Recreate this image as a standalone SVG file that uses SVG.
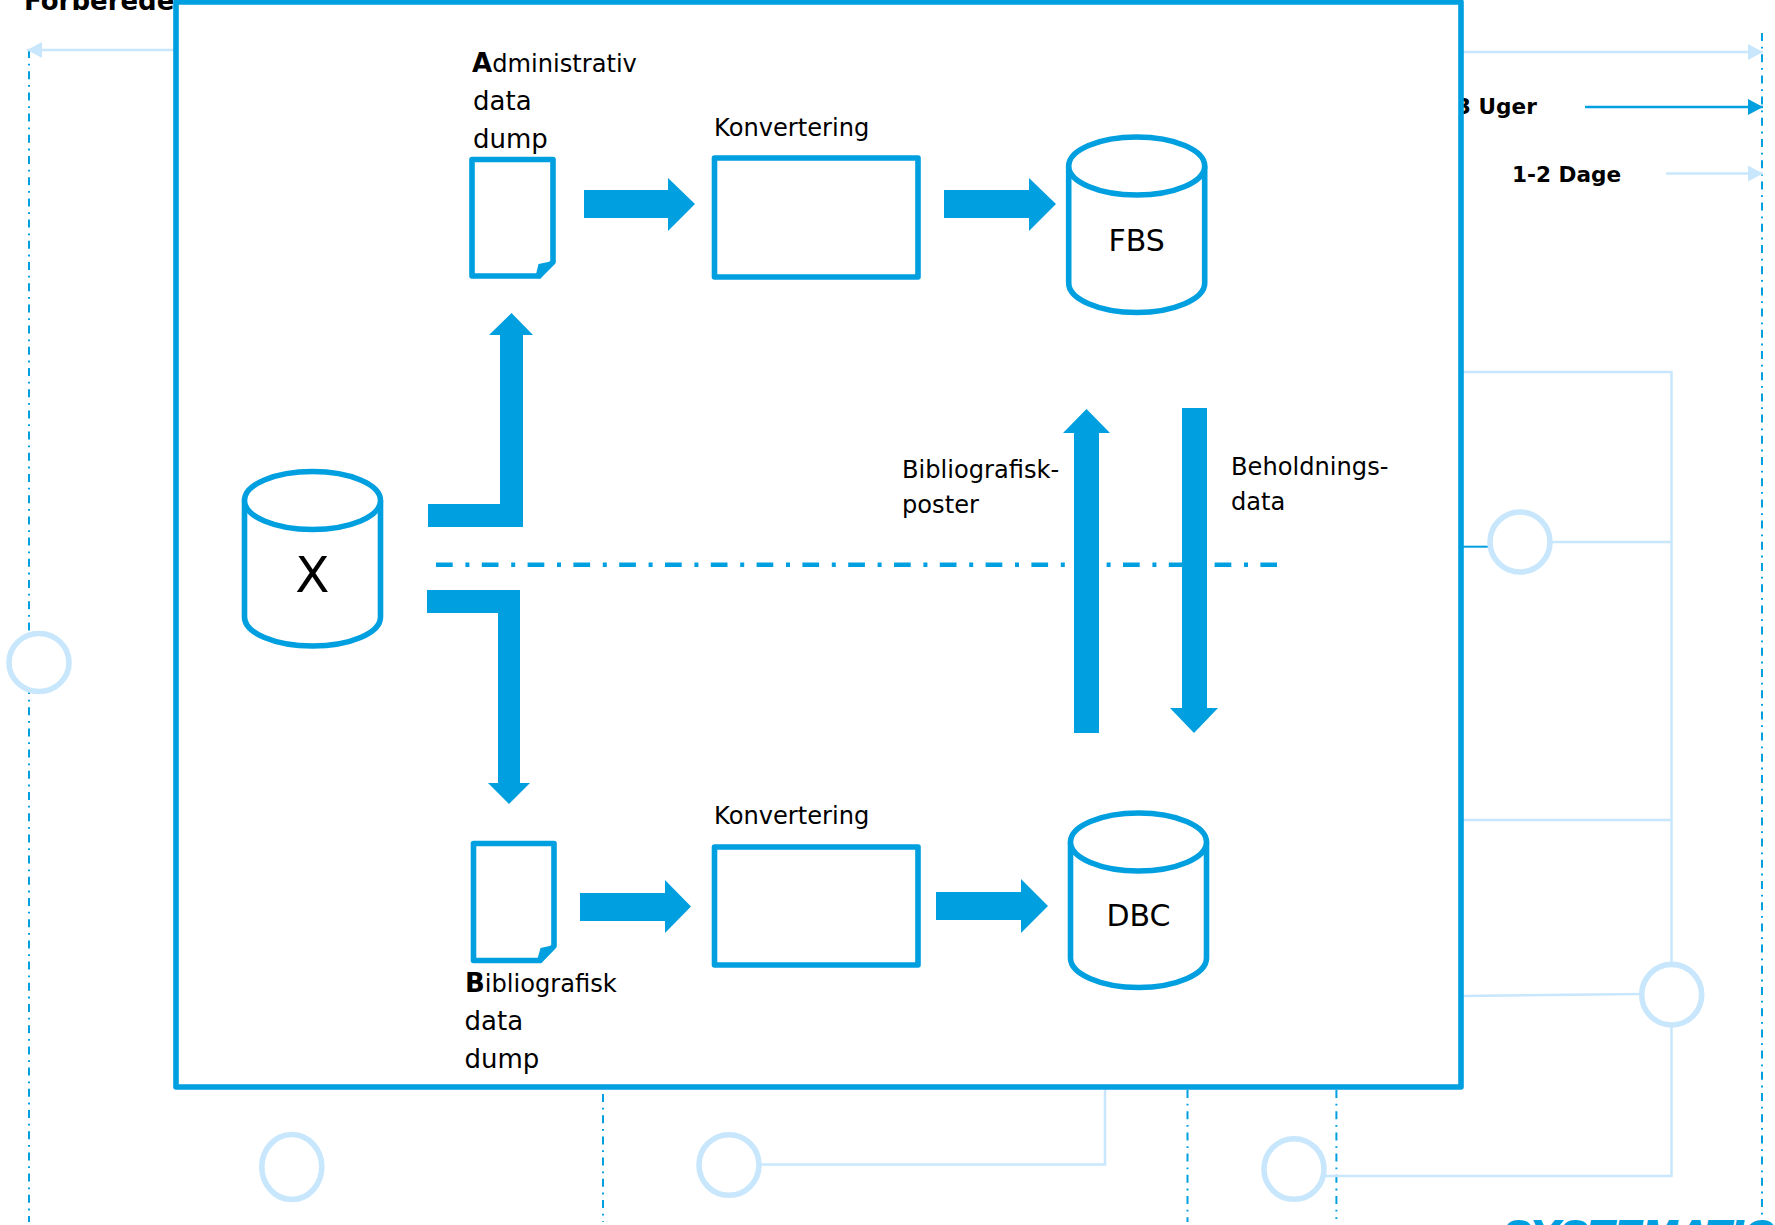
<svg xmlns="http://www.w3.org/2000/svg" width="1775" height="1225" viewBox="0 0 1775 1225">
<defs>
<marker id="ahLight" markerUnits="userSpaceOnUse" markerWidth="16" markerHeight="16" refX="15" refY="8" orient="auto"><path d="M0,0 L15,8 L0,16 Z" fill="#c8e7fc"/></marker>
<marker id="ahDark" markerUnits="userSpaceOnUse" markerWidth="16" markerHeight="16" refX="15" refY="8" orient="auto"><path d="M0,0 L15,8 L0,16 Z" fill="#009fdf"/></marker>
</defs>
<style>
text{font-family:"DejaVu Sans",Verdana,sans-serif;fill:#000}
.t{font-size:24.15px}
.b{font-size:26px;font-weight:bold}
.d{font-size:26px}
.h{font-size:21.6px;font-weight:bold}
.shape{fill:#fff;stroke:#009fdf;stroke-width:5.6;stroke-linejoin:round}
.solid{fill:#009fdf;stroke:none}
.light{fill:none;stroke:#c8e7fc;stroke-width:2.5}
.ring{fill:#fff;stroke:#c8e7fc;stroke-width:5.6}
.dash{fill:none;stroke:#009fdf;stroke-width:2;stroke-dasharray:8 5.8 1.8 5.6}
</style>
<rect width="1775" height="1225" fill="#fff"/>
<text id="logo" x="1503" y="1249" style="font-family:'Liberation Sans',sans-serif;font-size:41px;font-weight:bold;font-style:italic;fill:#009fdf;stroke:#009fdf;stroke-width:2;letter-spacing:1px">SYSTEMATIC</text>
<g id="labels-back">
<text x="24" y="10" style="font-size:26px;font-weight:bold">Forberede</text>
<text class="h" x="1456" y="114">3 Uger</text>
<text class="h" x="1512" y="181.500">1-2 Dage</text>
</g>
<g id="connectors">
<path class="dash" d="M29,50 V1222"/>
<path class="dash" d="M603,1094 V1222"/>
<path class="dash" d="M1187.500,1090 V1222"/>
<path class="dash" d="M1336.400,1090 V1219"/>
<path class="dash" d="M1762,33 V1219"/>
<path class="light" d="M176,50 H27" marker-end="url(#ahLight)"/>
<path class="light" d="M1461,52 H1763" marker-end="url(#ahLight)"/>
<path d="M1585,107 H1763" fill="none" stroke="#009fdf" stroke-width="2.500" marker-end="url(#ahDark)"/>
<path class="light" d="M1666,173.500 H1763" marker-end="url(#ahLight)"/>
<path class="light" d="M1461,372 H1671.500 V1176 H1326"/>
<path class="light" d="M1552,542 H1671.500"/>
<path class="light" d="M1461,820 H1671.500"/>
<path class="light" d="M1461,996 L1640,994"/>
<path d="M1461,546.700 H1488" fill="none" stroke="#009fdf" stroke-width="2"/>
<path class="light" d="M761,1164.500 H1105 V1086"/>
</g>
<g id="ring-left"><ellipse class="ring" cx="39" cy="662.500" rx="30" ry="29"/></g>
<g id="ring-mid-right"><circle class="ring" cx="1520" cy="542" r="30"/></g>
<g id="ring-lower-right"><ellipse class="ring" cx="1671.700" cy="994.700" rx="30" ry="30.300"/></g>
<g id="ring-bottom-1"><ellipse class="ring" cx="291.800" cy="1167" rx="30" ry="32.500"/></g>
<g id="ring-bottom-2"><ellipse class="ring" cx="729" cy="1165" rx="30" ry="30.300"/></g>
<g id="ring-bottom-3"><ellipse class="ring" cx="1294" cy="1169" rx="30" ry="30.300"/></g>
<g id="main-frame"><rect class="shape" x="176" y="2" width="1285" height="1085"/></g>
<g id="flow-arrows">
<path class="solid" d="M428,527 V504 H500 V335 H489 L511.500,313 L533,335 H523 V527 Z"/>
<path class="solid" d="M427,590 H520 V783 H530 L509,804 L488,783 H498 V613 H427 Z"/>
<path class="solid" d="M584,190 H668 V178 L695,204 L668,231 V218 H584 Z"/>
<path class="solid" d="M944,190 H1029 V178 L1056,204 L1029,231 V218 H944 Z"/>
<path class="solid" d="M580,893 H665 V880 L691,906.500 L665,933 V921 H580 Z"/>
<path class="solid" d="M936,892 H1021 V879 L1048,906 L1021,933 V920 H936 Z"/>
<path d="M436,564.700 H1277" fill="none" stroke="#009fdf" stroke-width="4.500" stroke-dasharray="16.700 12.700 4 12.400"/>
<path class="solid" d="M1074,733 V433 H1063 L1086.500,409 L1110,433 H1099 V733 Z"/>
<path class="solid" d="M1182,408 H1207 V708 H1218 L1194,733 L1170,708 H1182 Z"/>
</g>
<g id="node-x">
<path class="shape" d="M244.500,500.500 V617 C244.500,633 275,646 312.500,646 C350,646 380.500,633 380.500,617 V500.500"/>
<ellipse class="shape" cx="312.500" cy="500.500" rx="68" ry="29"/>
<text x="312.500" y="592" text-anchor="middle" style="font-size:50px">X</text>
</g>
<g id="node-admin-dump">
<path class="shape" d="M472,159.500 H553 V262 L539,276 H472 Z"/>
<path class="solid" d="M555.500,260.500 L540,279 L535.500,276.500 L538.500,264 Z"/>
<text class="b" x="472" y="71.700">A<tspan class="t" style="font-weight:normal">dministrativ</tspan></text>
<text class="d" x="473" y="110">data</text>
<text class="d" x="473" y="148">dump</text>
</g>
<g id="node-conv-1">
<rect class="shape" x="714.500" y="158" width="203.500" height="119"/>
<text class="t" x="714" y="136">Konvertering</text>
</g>
<g id="node-fbs">
<path class="shape" d="M1068.700,166 V283 C1068.700,299 1099,312.500 1136.700,312.500 C1174,312.500 1204.700,299 1204.700,283 V166"/>
<ellipse class="shape" cx="1136.700" cy="166" rx="68" ry="29"/>
<text x="1136.700" y="250.700" text-anchor="middle" style="font-size:30px">FBS</text>
</g>
<g id="node-biblio-dump">
<path class="shape" d="M473.500,843.500 H554 V946 L540,960.500 H473.500 Z"/>
<path class="solid" d="M556.500,944.500 L541,963 L537,960.500 L540.500,948 Z"/>
<text class="b" x="465" y="991.700">B<tspan class="t" style="font-weight:normal">ibliografisk</tspan></text>
<text class="d" x="464.500" y="1029.500">data</text>
<text class="d" x="464.500" y="1068">dump</text>
</g>
<g id="node-conv-2">
<rect class="shape" x="714.500" y="847" width="203.500" height="118"/>
<text class="t" x="714" y="824">Konvertering</text>
</g>
<g id="node-dbc">
<path class="shape" d="M1070.500,842 V958 C1070.500,974 1101,987.500 1138.500,987.500 C1176,987.500 1206.500,974 1206.500,958 V842"/>
<ellipse class="shape" cx="1138.500" cy="842" rx="68" ry="29"/>
<text x="1138.500" y="926" text-anchor="middle" style="font-size:30px">DBC</text>
</g>
<g id="edge-labels">
<text class="t" x="902" y="478">Bibliografisk-</text>
<text class="t" x="902" y="513">poster</text>
<text class="t" x="1231" y="475">Beholdnings-</text>
<text class="t" x="1231" y="510">data</text>
</g>
</svg>
